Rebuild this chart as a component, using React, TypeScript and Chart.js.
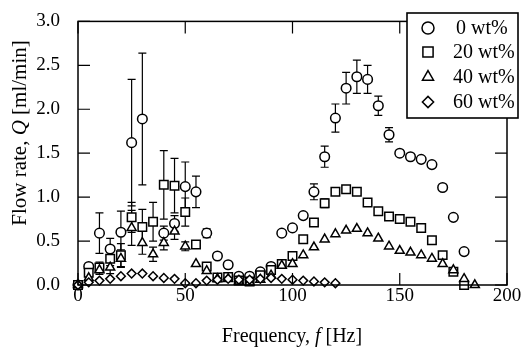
import React, { useEffect, useRef } from 'react';
import { Chart, registerables } from 'chart.js';

Chart.register(...registerables);

// Frequencies (Hz)
const freqs = [0, 5, 10, 15, 20, 25, 30, 35, 40, 45, 50, 55, 60, 65, 70, 75, 80, 85, 90, 95,
  100, 105, 110, 115, 120, 125, 130, 135, 140, 145, 150, 155, 160, 165, 170, 175, 180, 185];

// Flow rate Q [ml/min]
const q0 = [0, 0.21, 0.59, 0.41, 0.6, 1.62, 1.89, null, 0.59, 0.7, 1.12, 1.06, 0.59, 0.33, 0.23, 0.1, 0.1, 0.15, 0.21, 0.59,
  0.65, 0.79, 1.06, 1.46, 1.9, 2.24, 2.37, 2.34, 2.04, 1.71, 1.5, 1.46, 1.43, 1.37, 1.11, 0.77, 0.38, null];
const q20 = [0, 0.14, 0.2, 0.3, 0.34, 0.77, 0.66, 0.72, 1.14, 1.13, 0.83, 0.46, 0.21, 0.085, 0.09, 0.05, 0.04, 0.11, 0.17, 0.24,
  0.33, 0.52, 0.71, 0.93, 1.06, 1.09, 1.06, 0.94, 0.84, 0.78, 0.75, 0.72, 0.65, 0.51, 0.34, 0.15, 0.0, null];
const q40 = [0, 0.08, 0.17, 0.2, 0.3, 0.65, 0.48, 0.35, 0.48, 0.61, 0.44, 0.24, 0.16, 0.07, 0.07, 0.04, 0.03, 0.06, 0.11, 0.22,
  0.24, 0.34, 0.43, 0.52, 0.58, 0.62, 0.64, 0.59, 0.53, 0.44, 0.39, 0.37, 0.34, 0.3, 0.24, 0.17, 0.07, 0.0];
const q60 = [0, 0.03, 0.05, 0.07, 0.1, 0.13, 0.13, 0.1, 0.08, 0.07, 0.02, 0.02, 0.05, 0.06, 0.07, 0.06, 0.06, 0.07, 0.08, 0.07,
  0.06, 0.05, 0.04, 0.03, 0.02, null, null, null, null, null, null, null, null, null, null, null, null, null];

// Error bar half-widths
const e0 = [0, 0, 0.23, 0.12, 0.24, 0.72, 0.75, 0, 0.08, 0.09, 0.28, 0.18, 0.05, 0, 0, 0, 0, 0, 0, 0.03,
  0, 0.03, 0.09, 0.12, 0.16, 0.18, 0.19, 0.16, 0.11, 0.08, 0.03, 0.03, 0.02, 0.03, 0, 0, 0, 0];
const e20 = [0, 0.05, 0.06, 0.08, 0.13, 0.17, 0.2, 0.22, 0.39, 0.31, 0.16, 0.03, 0, 0, 0, 0, 0, 0, 0, 0,
  0, 0, 0.04, 0.05, 0.04, 0.04, 0.03, 0, 0, 0, 0, 0, 0, 0, 0, 0, 0, 0];
const e40 = [0, 0, 0.05, 0.07, 0.1, 0.2, 0.13, 0.08, 0.08, 0.09, 0.05, 0, 0, 0, 0, 0, 0, 0, 0, 0,
  0, 0, 0, 0, 0, 0, 0, 0, 0, 0, 0, 0, 0, 0, 0, 0, 0, 0];

const seriesLabels = ['0 wt%', '20 wt%', '40 wt%', '60 wt%'];
const xTicks = [0, 50, 100, 150, 200];
const yTicks = [0, 0.5, 1, 1.5, 2, 2.5, 3];

const FONT = '"Liberation Serif", "Times New Roman", serif';

function drawMarker(ctx: CanvasRenderingContext2D, style: string, x: number, y: number, r: number) {
  ctx.beginPath();
  if (style === 'circle') {
    ctx.arc(x, y, r, 0, Math.PI * 2);
  } else if (style === 'rect') {
    const s = r * Math.SQRT1_2;
    ctx.rect(x - s, y - s, 2 * s, 2 * s);
  } else if (style === 'triangle') {
    ctx.moveTo(x, y - r);
    ctx.lineTo(x + r * Math.cos(Math.PI / 6), y + r / 2);
    ctx.lineTo(x - r * Math.cos(Math.PI / 6), y + r / 2);
    ctx.closePath();
  } else {
    ctx.moveTo(x - r, y);
    ctx.lineTo(x, y - r);
    ctx.lineTo(x + r, y);
    ctx.lineTo(x, y + r);
    ctx.closePath();
  }
  ctx.fill();
  ctx.stroke();
}

export default function App() {
  const ref = useRef<HTMLCanvasElement>(null);

  useEffect(() => {
    if (!ref.current) return;
    const styles = ['circle', 'rect', 'triangle', 'rectRot'];
    const radii = [4.8, 6.0, 5.2, 4.4];
    const vals = [q0, q20, q40, q60];
    const errs = [e0, e20, e40, null];

    const datasets = vals.map((arr, k) => ({
      label: seriesLabels[k],
      data: freqs.map((f, i) => (arr[i] == null ? null : { x: f, y: arr[i] as number })).filter(Boolean) as any,
      showLine: false,
      pointStyle: styles[k],
      pointRadius: radii[k],
      pointBackgroundColor: '#fff',
      pointBorderColor: '#000',
      pointBorderWidth: 1.5,
      clip: false as any,
      order: 3 - k,
    }));

    const decor = {
      id: 'decor',
      beforeDatasetsDraw(chart: any) {
        const { ctx, scales } = chart;
        const x = scales.x, y = scales.y;
        ctx.save();
        ctx.strokeStyle = '#000';
        ctx.lineWidth = 1.2;
        errs.forEach((er, k) => {
          if (!er) return;
          const arr = vals[k];
          freqs.forEach((f, i) => {
            const v = arr[i];
            const e = er[i];
            if (v == null || !e) return;
            const px = x.getPixelForValue(f);
            const top = y.getPixelForValue(v + e);
            const bot = y.getPixelForValue(Math.max(0, v - e));
            ctx.beginPath();
            ctx.moveTo(px, top); ctx.lineTo(px, bot);
            ctx.moveTo(px - 4, top); ctx.lineTo(px + 4, top);
            ctx.moveTo(px - 4, bot); ctx.lineTo(px + 4, bot);
            ctx.stroke();
          });
        });
        ctx.restore();
      },
      afterDraw(chart: any) {
        const { ctx, chartArea: a, scales } = chart;
        const x = scales.x, y = scales.y;
        ctx.save();
        ctx.strokeStyle = '#000';
        ctx.lineWidth = 1.5;
        ctx.strokeRect(a.left, a.top, a.right - a.left, a.bottom - a.top);
        ctx.lineWidth = 1.2;
        const TL = 12;
        ctx.beginPath();
        xTicks.forEach((t) => {
          const px = x.getPixelForValue(t);
          ctx.moveTo(px, a.bottom); ctx.lineTo(px, a.bottom - TL);
          ctx.moveTo(px, a.top); ctx.lineTo(px, a.top + TL);
        });
        yTicks.forEach((t) => {
          const py = y.getPixelForValue(t);
          ctx.moveTo(a.left, py); ctx.lineTo(a.left + TL, py);
          ctx.moveTo(a.right, py); ctx.lineTo(a.right - TL, py);
        });
        ctx.stroke();

        // axis titles
        ctx.fillStyle = '#000';
        ctx.textBaseline = 'middle';
        const drawParts = (parts: [string, boolean][], cx: number, cy: number, size: number) => {
          let total = 0;
          parts.forEach(([t, it]) => {
            ctx.font = `${it ? 'italic ' : ''}${size}px ${FONT}`;
            total += ctx.measureText(t).width;
          });
          let sx = cx - total / 2;
          ctx.textAlign = 'left';
          parts.forEach(([t, it]) => {
            ctx.font = `${it ? 'italic ' : ''}${size}px ${FONT}`;
            ctx.fillText(t, sx, cy);
            sx += ctx.measureText(t).width;
          });
        };
        drawParts([['Frequency, ', false], ['f', true], [' [Hz]', false]], 292, 337, 20);
        ctx.save();
        ctx.translate(20, 133);
        ctx.rotate(-Math.PI / 2);
        drawParts([['Flow rate, ', false], ['Q', true], [' [ml/min]', false]], 0, 0, 21);
        ctx.restore();

        // legend
        const L = 407, T = 13, R = 518, B = 118;
        ctx.fillStyle = '#fff';
        ctx.fillRect(L, T, R - L, B - T);
        ctx.lineWidth = 1.6;
        ctx.strokeRect(L, T, R - L, B - T);
        const rowY = [28, 52, 77, 102];
        const legR = [6, 7.2, 6.4, 5.6];
        seriesLabels.forEach((lab, k) => {
          ctx.fillStyle = '#fff';
          ctx.strokeStyle = '#000';
          ctx.lineWidth = 1.5;
          drawMarker(ctx, styles[k], 428, rowY[k], legR[k]);
          ctx.fillStyle = '#000';
          ctx.font = `20px ${FONT}`;
          ctx.textAlign = 'left';
          ctx.textBaseline = 'middle';
          ctx.fillText(lab, k === 0 ? 456 : 453, rowY[k] + 1);
        });
        ctx.restore();
      },
    };

    const chart = new Chart(ref.current, {
      type: 'scatter',
      data: { datasets },
      options: {
        animation: false,
        responsive: false,
        devicePixelRatio: 1,
        layout: { padding: { top: 15, right: 14, left: 0, bottom: 0 } },
        plugins: { legend: { display: false }, tooltip: { enabled: false } },
        scales: {
          x: {
            type: 'linear',
            min: 0,
            max: 200,
            ticks: { stepSize: 50, color: '#000', font: { family: FONT, size: 19 }, padding: -8, maxRotation: 0 },
            grid: { display: false },
            border: { display: false },
            afterFit: (s: any) => { s.height = 65; },
          },
          y: {
            type: 'linear',
            min: 0,
            max: 3,
            ticks: {
              stepSize: 0.5,
              color: '#000',
              font: { family: FONT, size: 19 },
              padding: 10,
              callback: (v: any) => Number(v).toFixed(1),
            },
            grid: { display: false },
            border: { display: false },
            afterFit: (s: any) => { s.width = 78; },
          },
        },
      },
      plugins: [decor],
    } as any);
    return () => chart.destroy();
  }, []);

  return (
    <div style={{ position: 'absolute', left: 0, top: 0, width: 521, height: 350, background: '#fff' }}>
      <canvas ref={ref} width={521} height={350} style={{ width: 521, height: 350, display: 'block' }} />
    </div>
  );
}
